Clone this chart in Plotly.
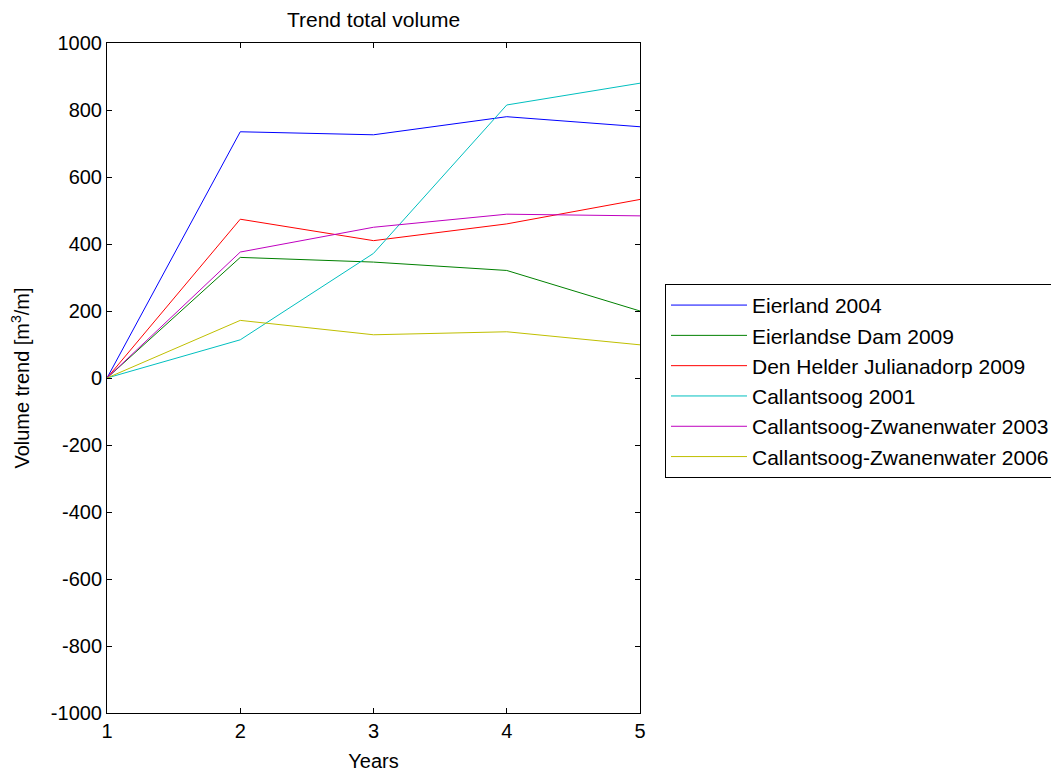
import plotly.graph_objects as go

years = [1, 2, 3, 4, 5]
series_names = [
    "Eierland 2004",
    "Eierlandse Dam 2009",
    "Den Helder Julianadorp 2009",
    "Callantsoog 2001",
    "Callantsoog-Zwanenwater 2003",
    "Callantsoog-Zwanenwater 2006",
]
eierland_2004 = [0, 735, 726, 780, 750]
eierlandse_dam_2009 = [0, 360, 346, 321, 200]
den_helder_2009 = [0, 474, 410, 460, 533]
callantsoog_2001 = [0, 114, 372, 815, 880]
zwanenwater_2003 = [0, 376, 450, 489, 484]
zwanenwater_2006 = [0, 172, 129, 138, 99]
series_values = [eierland_2004, eierlandse_dam_2009, den_helder_2009,
                 callantsoog_2001, zwanenwater_2003, zwanenwater_2006]
colors = ["rgb(0,0,255)", "rgb(0,128,0)", "rgb(255,0,0)",
          "rgb(0,191,191)", "rgb(191,0,191)", "rgb(191,191,0)"]

y_tick_vals = [-1000, -800, -600, -400, -200, 0, 200, 400, 600, 800, 1000]
y_tick_text = ["-1000", "-800", "-600", "-400", "-200", "0", "200", "400", "600", "800", "1000"]
x_tick_vals = [1, 2, 3, 4, 5]

font = "Liberation Sans, Arial, sans-serif"

fig = go.Figure()
for i, (name, vals) in enumerate(zip(series_names, series_values)):
    fig.add_trace(go.Scatter(
        x=years, y=vals, mode="lines", name=name,
        line=dict(color=colors[i], width=1),
        legendgroup=f"g{i}",
    ))

axis_common = dict(
    showline=True, linecolor="black", linewidth=1, mirror="ticks",
    ticks="inside", ticklen=5, tickcolor="black", tickwidth=1,
    showgrid=False, zeroline=False, automargin=False,
    tickfont=dict(family=font, size=20, color="black"),
)

fig.update_xaxes(range=[1, 5], tickvals=x_tick_vals,
                 title=dict(text="Years", font=dict(family=font, size=20, color="black"), standoff=12),
                 **axis_common)
fig.update_yaxes(range=[-1000, 1000], tickvals=y_tick_vals, ticktext=y_tick_text,
                 title=dict(text="Volume trend [m<sup>3</sup>/m]", font=dict(family=font, size=20, color="black"), standoff=15),
                 **axis_common)

fig.update_layout(
    width=1051, height=774,
    margin=dict(l=107, r=411, t=43, b=61, autoexpand=False),
    paper_bgcolor="white", plot_bgcolor="white",
    title=dict(text="Trend total volume", x=373.5 / 1051, xanchor="center",
               y=1 - 20 / 774, yanchor="middle",
               font=dict(family=font, size=21, color="black")),
    font=dict(family=font, size=20, color="black"),
    showlegend=True,
    legend=dict(
        x=(665 - 107) / 533, y=(712.7 - 284) / 669.4, xanchor="left", yanchor="top",
        bordercolor="black", borderwidth=1, bgcolor="white",
        font=dict(family=font, size=21, color="black"),
        tracegroupgap=3, traceorder="normal", itemwidth=76,
    ),
)

fig.write_html("out.html", config={"displayModeBar": False},
               post_script="document.body.style.margin='0';")
